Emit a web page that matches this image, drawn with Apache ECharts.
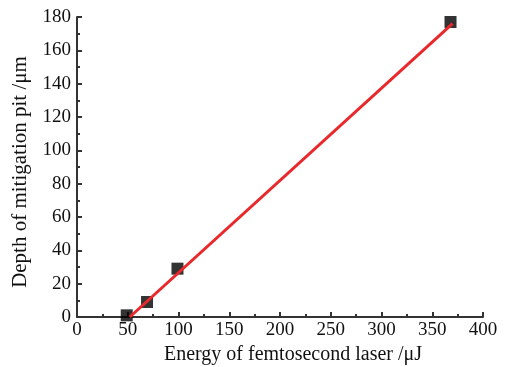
<!DOCTYPE html>
<html>
<head>
<meta charset="utf-8">
<script src="https://cdn.jsdelivr.net/npm/echarts@6/dist/echarts.min.js"></script>
<style>
  html, body { margin: 0; padding: 0; background: #fff; }
  #chart { width: 514px; height: 367px; }
</style>
</head>
<body>
<div id="chart"></div>
<script>
// measured points
const energy = [49, 69, 99, 368]
const depth = [1, 9, 29, 177]
// linear fit line endpoints
const fitX = [52, 370]
const fitY = [0, 176]

const font = 'Liberation Serif'
const axisColor = '#333'

const chart = echarts.init(document.getElementById('chart'))
chart.setOption({
  animation: false,
  grid: { left: 77, right: 31, top: 17, bottom: 50, outerBoundsMode: 'none' },
  xAxis: {
    type: 'value',
    min: 0, max: 400, interval: 50,
    name: 'Energy of femtosecond laser /μJ',
    nameLocation: 'middle',
    nameGap: 22,
    nameTextStyle: { fontFamily: font, fontSize: 20, color: '#111', padding: [0, 0, 0, 26] },
    axisLine: { show: true, lineStyle: { color: axisColor, width: 2 } },
    axisTick: { inside: true, length: 5, lineStyle: { color: axisColor, width: 2 } },
    minorTick: { show: true, splitNumber: 2, length: 3, lineStyle: { color: axisColor, width: 2 } },
    axisLabel: { fontFamily: font, fontSize: 19, color: '#111', margin: 4 },
    splitLine: { show: false }
  },
  yAxis: {
    type: 'value',
    min: 0, max: 180, interval: 20,
    name: 'Depth of mitigation pit /μm',
    nameLocation: 'middle',
    nameGap: 46,
    nameTextStyle: { fontFamily: font, fontSize: 21, color: '#111', padding: [0, 10, 0, 0] },
    axisLine: { show: true, lineStyle: { color: axisColor, width: 2 } },
    axisTick: { inside: true, length: 5, lineStyle: { color: axisColor, width: 2 } },
    minorTick: { show: true, splitNumber: 2, length: 3, lineStyle: { color: axisColor, width: 2 } },
    axisLabel: { fontFamily: font, fontSize: 19, color: '#111', margin: 6 },
    splitLine: { show: false }
  },
  series: [
    {
      type: 'line',
      data: fitX.map((x, i) => [x, fitY[i]]),
      symbol: 'none',
      lineStyle: { color: '#e8282b', width: 3 },
      z: 3
    },
    {
      type: 'scatter',
      data: energy.map((x, i) => [x, depth[i]]),
      symbol: 'rect',
      symbolSize: 12,
      itemStyle: { color: '#000' },
      z: 2
    }
  ]
})
</script>
</body>
</html>
